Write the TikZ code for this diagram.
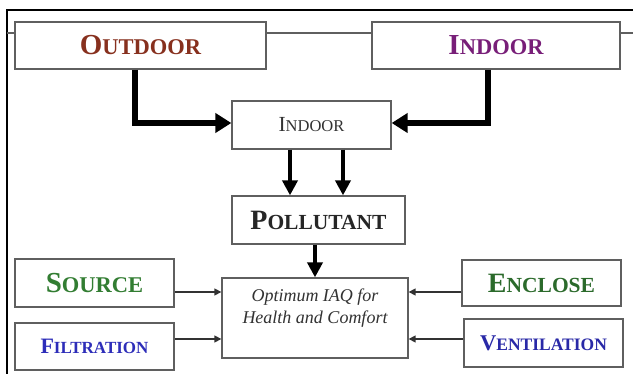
\documentclass[tikz,border=0pt]{standalone}
\usepackage{fontspec}
\setmainfont{Liberation Serif}
\usetikzlibrary{arrows.meta}
\definecolor{outc}{RGB}{135,48,30}
\definecolor{inc}{RGB}{120,30,120}
\definecolor{grn}{RGB}{50,125,50}
\definecolor{blu}{RGB}{45,45,185}
\definecolor{boxc}{RGB}{95,95,95}
\definecolor{txtc}{RGB}{50,50,50}
\newcommand\capsA[4]{{\fontsize{#1pt}{#1pt}\selectfont #3}{\fontsize{#2pt}{#2pt}\selectfont #4}}
\tikzset{
  box/.style={draw=boxc, line width=1.3pt, fill=white, inner sep=0pt, rectangle},
  frameline/.style={line width=2.5pt, black},
  link/.style={draw=boxc, line width=1.2pt},
  bigarrow/.style={line width=5.5pt, black, -{Triangle[length=16pt,width=19pt]}},
  midarrow/.style={line width=4.5pt, black, -{Triangle[length=15pt,width=15pt]}},
  smallarrow/.style={line width=1.4pt, draw=txtc, -{Triangle[length=7pt,width=7pt]}}
}
\begin{document}
\begin{tikzpicture}[x=1pt,y=-1pt]
\useasboundingbox (0,0) rectangle (633,374);
% frame
\coordinate (fl) at (7,374);
\coordinate (fc) at (7,10);
\coordinate (fr) at (633,10);
\draw[frameline] (fl) -- (fc) -- (fr);
% top boxes
\node[box, minimum width=251pt, minimum height=47pt] (out) at (140.5,45.5)
  {\bfseries\color{outc}\capsA{29}{22.5}{O}{UTDOOR}};
\node[box, minimum width=248pt, minimum height=47pt] (ind) at (496,45.5)
  {\bfseries\color{inc}\capsA{29}{22.5}{I}{NDOOR}};
% linking line across the top
\coordinate (ll) at (7,33);
\coordinate (lr) at (633,33);
\draw[link] (ll) -- (ll -| out.west);
\draw[link] (ll -| out.east) -- (ll -| ind.west);
\draw[link] (ll -| ind.east) -- (lr);
% middle boxes
\node[box, minimum width=159pt, minimum height=48pt] (mid) at (311.5,125)
  {\color{txtc}\capsA{21.5}{16.5}{I}{NDOOR}};
\node[box, minimum width=173pt, minimum height=48pt] (pol) at (318.5,220)
  {\bfseries\color{black!85}\capsA{28}{21.5}{P}{OLLUTANT}};
\node[box, minimum width=186pt, minimum height=80pt] (opt) at (315,318) {};
\node[font=\itshape\fontsize{18pt}{22pt}\selectfont, text=txtc, align=center, inner sep=0pt] (optt) at (315,308)
  {Optimum IAQ for\\Health and Comfort};
% side boxes
\node[box, minimum width=159pt, minimum height=48pt] (src) at (94.5,283)
  {\bfseries\color{grn}\capsA{29}{22.5}{S}{OURCE}};
\node[box, minimum width=159pt, minimum height=47pt] (fil) at (94.5,346.5)
  {\bfseries\color{blu}\capsA{22}{17}{F}{ILTRATION}};
\node[box, minimum width=159pt, minimum height=46pt] (enc) at (541.5,283)
  {\bfseries\color{grn!85!black}\capsA{28}{21.5}{E}{NCLOSE}};
\node[box, minimum width=159pt, minimum height=48pt] (ven) at (543.5,343)
  {\bfseries\color{blu!90!black}\capsA{22.5}{17.5}{V}{ENTILATION}};
% thick arrows
\draw[bigarrow] ([xshift=-5.5pt]out.south) |- ([yshift=2pt]mid.west);
\draw[bigarrow] ([xshift=-8pt]ind.south) |- ([yshift=2pt]mid.east);
\draw[midarrow] ([xshift=-21.5pt]mid.south) -- ([xshift=-21.5pt]mid.south |- pol.north);
\draw[midarrow] ([xshift=31.5pt]mid.south) -- ([xshift=31.5pt]mid.south |- pol.north);
\draw[midarrow] (pol.south -| opt.north) -- (opt.north);
% thin arrows
\draw[smallarrow] ([yshift=-9pt]src.east) -- ([yshift=-9pt]src.east -| opt.west);
\draw[smallarrow] ([yshift=7.5pt]fil.east) -- ([yshift=7.5pt]fil.east -| opt.west);
\draw[smallarrow] ([yshift=-9pt]enc.west) -- ([yshift=-9pt]enc.west -| opt.east);
\draw[smallarrow] ([yshift=4pt]ven.west) -- ([yshift=4pt]ven.west -| opt.east);
\end{tikzpicture}
\end{document}
